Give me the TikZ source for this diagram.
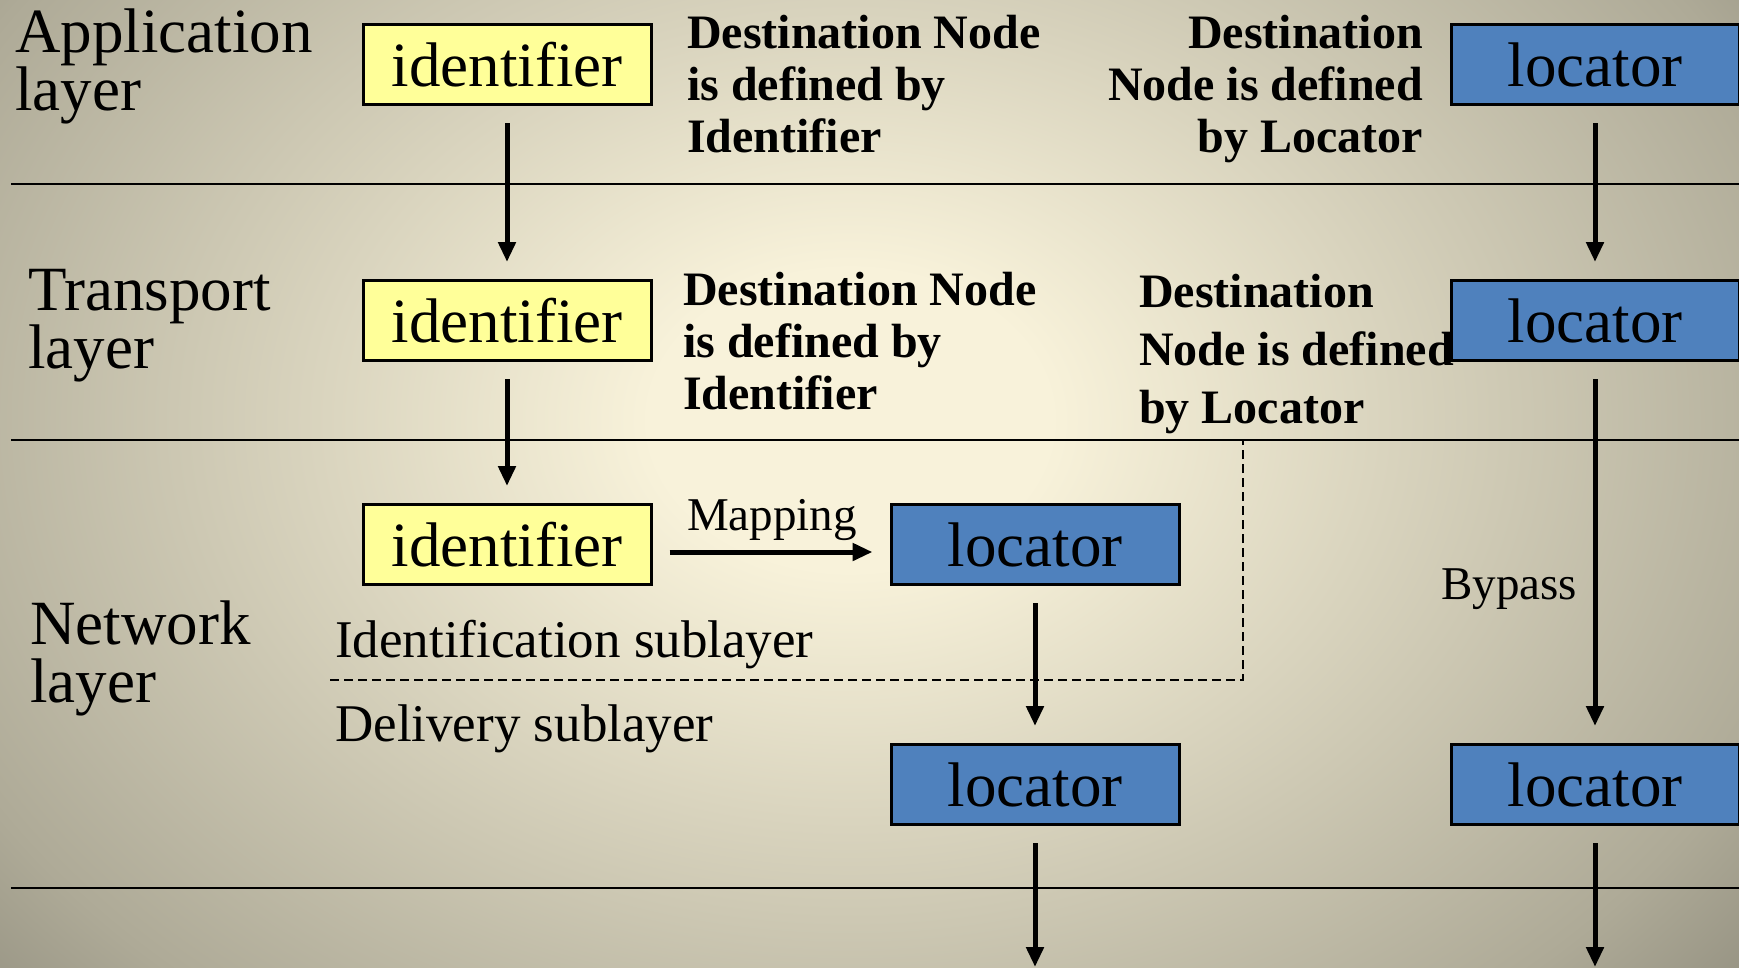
\documentclass[tikz,border=0pt]{standalone}
\usepackage{fontspec}
\setmainfont{Liberation Serif}
\usetikzlibrary{arrows.meta}

\definecolor{bgcenter}{HTML}{F8F2DA}
\definecolor{bgedge}{HTML}{AEAA97}
\definecolor{bgdark}{HTML}{8C897A}
\definecolor{idfill}{HTML}{FFFF99}
\definecolor{locfill}{HTML}{4F81BD}

% soft cream glow fading to grey towards the borders
\pgfdeclareradialshading{bgglow}{\pgfpoint{0bp}{0bp}}{%
  color(0bp)=(bgcenter); color(5bp)=(bgcenter); color(25bp)=(bgedge);
  color(31bp)=(bgdark); color(50bp)=(bgdark)}

% let lines sit closer than their glyph boxes would allow
\newcommand\tightlines{\lineskiplimit=-100pt\relax}

\tikzset{
  idbox/.style={draw=black, line width=3pt, fill=idfill,
    minimum width=288pt, minimum height=80pt, inner sep=0pt,
    font=\fontsize{63}{70}\selectfont},
  locbox/.style={idbox, fill=locfill},
  % multi-line labels are placed by the baseline of their last line
  layerlabel/.style={inner sep=0pt, anchor=base west, align=left,
    font=\fontsize{63}{58}\selectfont\tightlines},
  defnote/.style={inner sep=0pt,
    font=\bfseries\fontsize{48}{52}\selectfont\tightlines},
  plainlabel/.style={inner sep=0pt, anchor=base west},
  flow/.style={line width=5pt, -{Triangle[width=17pt,length=20pt]},
    shorten <=17pt, shorten >=17pt},
  rule/.style={line width=2.5pt},
  sublayer/.style={line width=2pt, dash pattern=on 9pt off 5pt},
}

\begin{document}
\begin{tikzpicture}[x=1pt,y=-1pt]
\useasboundingbox (0,0) rectangle (1739,967);

% background
\begin{scope}
  \clip (0,0) rectangle (1739,967);
  \shade[shading=bgglow] (-150,-330) rectangle (1850,1170);
\end{scope}

% layer boundaries
\draw[rule] (11,184) -- (1739,184);
\draw[rule] (11,440) -- (1739,440);
\draw[rule] (11,888) -- (1739,888);

% boundary between identification and delivery sublayers
\draw[sublayer] (330,680) -- (1243,680) -- (1243,440);

% layer names
\node[layerlabel] (appl) at (15,110) {Application\\layer};
\node[layerlabel] (tranl) at (28,368) {Transport\\layer};
\node[layerlabel] (netl) at (30,702) {Network\\layer};

% identifier / locator boxes
\node[idbox] (idA) at (507,64.5) {identifier};
\node[idbox] (idT) at (507,320.5) {identifier};
\node[idbox] (idN) at (507,544.5) {identifier};
\node[locbox] (locA) at (1595,64.5) {locator};
\node[locbox] (locT) at (1595,320.5) {locator};
\node[locbox] (locN) at (1035,544.5) {locator};
\node[locbox] (locD) at (1035,784.5) {locator};
\node[locbox] (locB) at (1595,784.5) {locator};

% notes
\node[defnote, anchor=base west, align=left] (noteAi) at (687,152)
  {Destination Node\\is defined by\\Identifier};
\node[defnote, anchor=base east, align=right] (noteAl) at (1423,152)
  {Destination\\Node is defined\\by Locator};
\node[defnote, anchor=base west, align=left] (noteTi) at (683,409)
  {Destination Node\\is defined by\\Identifier};
\node[defnote, anchor=base west, align=left,
  font=\bfseries\fontsize{48}{58}\selectfont\tightlines] (noteTl) at (1139,423)
  {Destination\\Node is defined\\by Locator};

\node[plainlabel, font=\fontsize{47}{50}\selectfont] (maplbl) at (687,530) {Mapping};
\node[plainlabel, font=\fontsize{53}{56}\selectfont] (idsub) at (335,657) {Identification sublayer};
\node[plainlabel, font=\fontsize{53}{56}\selectfont] (delsub) at (335,741) {Delivery sublayer};
\node[plainlabel, font=\fontsize{47}{50}\selectfont] (bypass) at (1441,599) {Bypass};

% flows
\coordinate (mapy) at (0,552);
\coordinate (outD) at (1035,967);
\coordinate (outB) at (1595,967);

\draw[flow] (idA) -- (idT);
\draw[flow] (idT) -- (idN);
\draw[flow] (idN.east |- mapy) -- (locN.west |- mapy);
\draw[flow] (locA) -- (locT);
\draw[flow] (locT) -- (locB);
\draw[flow] (locN) -- (locD);
\draw[flow, shorten >=0pt] (locD) -- (outD);
\draw[flow, shorten >=0pt] (locB) -- (outB);
\end{tikzpicture}
\end{document}
